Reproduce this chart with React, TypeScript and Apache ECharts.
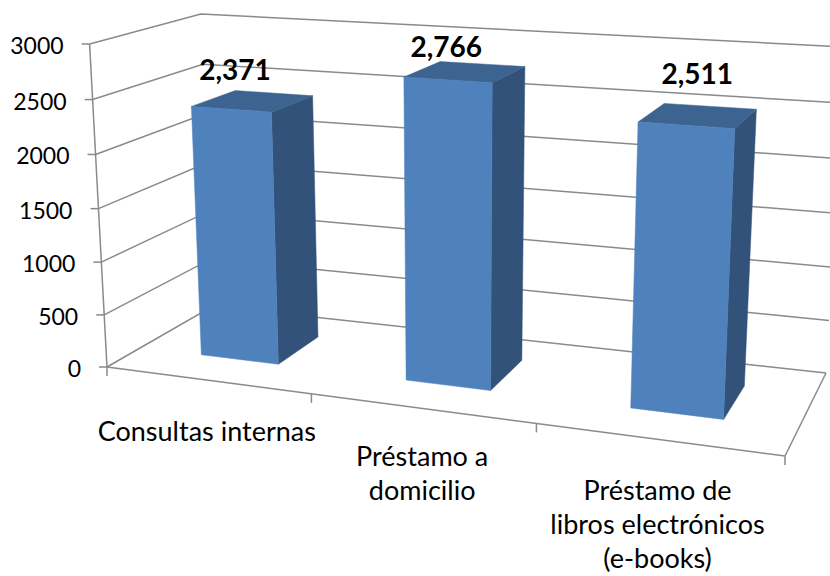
import React, { useEffect, useRef } from "react";
import * as echarts from "echarts";

const categories = ["Consultas internas", "Préstamo a\ndomicilio", "Préstamo de\nlibros electrónicos\n(e-books)"];
const requestValues = [2371, 2766, 2511];
const yTicks = [0, 500, 1000, 1500, 2000, 2500, 3000];

const FONT = "Lato, Carlito, sans-serif";
const GRID = 300;
const LINE = "#8a8a8a";
const LABEL_SHIFT = [[-17, -32], [-18, -26], [0, -42]];
const CAT_SHIFT = [[0, 33], [1, 30], [0, 33]];

type P = [number, number];
function homography(a: P, b: P, c: P, d: P) {
  const dx1 = b[0] - c[0], dx2 = d[0] - c[0], sx = a[0] - b[0] + c[0] - d[0];
  const dy1 = b[1] - c[1], dy2 = d[1] - c[1], sy = a[1] - b[1] + c[1] - d[1];
  const den = dx1 * dy2 - dx2 * dy1;
  const g = (sx * dy2 - dx2 * sy) / den;
  const h = (dx1 * sy - sx * dy1) / den;
  return (u: number, w: number): P => {
    const q = g * u + h * w + 1;
    return [
      ((b[0] - a[0] + g * b[0]) * u + (d[0] - a[0] + h * d[0]) * w + a[0]) / q,
      ((b[1] - a[1] + g * b[1]) * u + (d[1] - a[1] + h * d[1]) * w + a[1]) / q,
    ];
  };
}
const floorPlane = homography([107, 367], [785, 456], [826, 373], [213, 306]);
const warpU = (u: number) => u + 0.04 * u * (1 - u);
const warpV = (v: number) => v / (1 + 0.04 * (1 - v));
function project(u: number, v: number, w: number): P {
  const f = floorPlane(warpU(u), w);
  const t: P = [f[0] + 0.05 * (f[0] - 455), 0.492 * f[1] - 136.6];
  const k = warpV(v);
  return [f[0] + (t[0] - f[0]) * k, f[1] + (t[1] - f[1]) * k];
}
const scaleOf = (api: any, x: number, y: number) => {
  const p = api.coord([x, y]);
  return [p[0] / GRID, (GRID - p[1]) / GRID];
};
const seg = (a: P, b: P, width = 1.5) => ({
  type: "line",
  shape: { x1: a[0], y1: a[1], x2: b[0], y2: b[1] },
  style: { stroke: LINE, lineWidth: width },
});
const poly = (points: P[], fill: string) => ({
  type: "polygon",
  shape: { points },
  style: { fill, stroke: fill, lineWidth: 0.5 },
});

function renderTick(params: any, api: any) {
  const tick = api.value(1);
  const [, v] = scaleOf(api, 0, tick);
  const a = project(0, v, 0), b = project(0, v, 1), c = project(1, v, 1);
  const children: any[] = [
    { type: "polyline", shape: { points: [a, b, c] }, style: { stroke: LINE, lineWidth: 1.5, fill: "none" } },
    seg([a[0] - 8, a[1]], a),
    {
      type: "text",
      style: {
        text: String(tick), x: a[0] - 26, y: a[1] + 1, fontFamily: FONT, fontSize: 23,
        fill: "#000", align: "right", verticalAlign: "middle",
      },
    },
  ];
  if (tick === 0) {
    children.push(seg(a, project(1, 0, 0)), seg(project(1, 0, 0), c), seg(a, project(0, 1, 0)));
  }
  return { type: "group", children };
}

function renderCategory(params: any, api: any) {
  const i = api.value(0);
  const [uc] = scaleOf(api, i, 0);
  const uEdge = (i + 1) / categories.length;
  const e = project(uEdge, 0, 0);
  const base = project(uc, 0, 0);
  const tick = seg(e, [e[0], e[1] + 9]);
  const start = project(0, 0, 0);
  const first = seg(start, [start[0], start[1] + 9]);
  const children: any[] = [
    tick,
    {
      type: "text",
      style: {
        text: categories[i], x: base[0] + CAT_SHIFT[i][0], y: base[1] + CAT_SHIFT[i][1],
        fontFamily: FONT, fontSize: 27, lineHeight: 34, fill: "#000", align: "center", verticalAlign: "top",
      },
    },
  ];
  if (i === 0) children.push(first);
  return { type: "group", children };
}

function renderBar(params: any, api: any) {
  const i = api.value(0);
  const val = api.value(1);
  const [uc, v] = scaleOf(api, i, val);
  const w0 = 0.3, w1 = 0.72;
  const u0 = uc - 0.063, u1 = uc + 0.066;
  const flb = project(u0, 0, w0), frb = project(u1, 0, w0), flt = project(u0, v, w0), frt = project(u1, v, w0);
  const brb = project(u1, 0, w1), brt = project(u1, v, w1), blt = project(u0, v, w1);
  const c = project(uc, v, (w0 + w1) / 2);
  return {
    type: "group",
    children: [
      poly([frb, brb, brt, frt], "#325279"),
      poly([flt, frt, brt, blt], "#3d6491"),
      poly([flb, frb, frt, flt], "#4f81bd"),
      {
        type: "text",
        style: {
          text: val.toLocaleString("en-US"), x: c[0] + LABEL_SHIFT[i][0], y: c[1] + LABEL_SHIFT[i][1],
          fontFamily: FONT, fontSize: 28, fontWeight: "bold", fill: "#000", align: "center", verticalAlign: "middle",
        },
      },
    ],
  };
}

export default function App() {
  const ref = useRef<HTMLDivElement>(null);
  useEffect(() => {
    document.body.style.margin = "0";
    const chart = echarts.init(ref.current!, undefined, { renderer: "svg" });
    chart.setOption({
      animation: false,
      backgroundColor: "#fff",
      grid: { left: 0, top: 0, width: GRID, height: GRID, show: false },
      xAxis: { type: "category", data: categories, show: false },
      yAxis: { type: "value", min: 0, max: 3000, interval: 500, show: false },
      series: [
        { type: "custom", silent: true, renderItem: renderTick, data: yTicks.map((t) => [0, t]), encode: { x: 0, y: 1 } },
        { type: "custom", silent: true, renderItem: renderCategory, data: categories.map((_, i) => [i, 0]), encode: { x: 0, y: 1 } },
        { type: "custom", silent: true, renderItem: renderBar, data: requestValues.map((v, i) => [i, v]), encode: { x: 0, y: 1 } },
      ],
    });
    return () => chart.dispose();
  }, []);
  return <div ref={ref} style={{ width: 830, height: 576, overflow: "hidden" }} />;
}
